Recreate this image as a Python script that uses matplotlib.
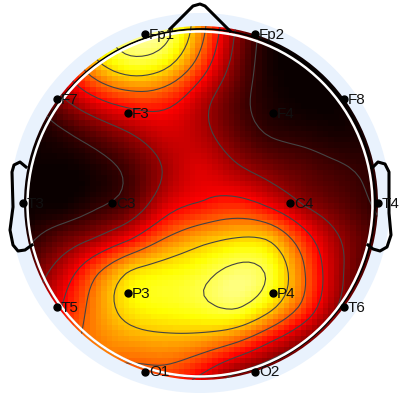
# EEG topomap, 16 channels, drawn in picture pixel units
import numpy as np
import matplotlib
matplotlib.use('Agg')
import matplotlib.pyplot as plt
from matplotlib.patches import Circle

channels = ['Fp1', 'Fp2', 'F7', 'F3', 'F4', 'F8', 'T3', 'C3', 'C4', 'T4', 'T5', 'P3', 'P4', 'T6', 'O1', 'O2']
chan_x = [145, 255, 57, 128, 273, 344, 23, 112, 290, 378, 57, 128, 273, 344, 145, 255]
chan_y = [34, 34, 99, 113, 113, 99, 203, 203, 203, 203, 307, 293, 293, 307, 372, 372]

grid_x = [25, 60, 95, 130, 165, 200, 235, 270, 305, 340, 375]
grid_y = [28, 63, 98, 133, 168, 203, 238, 273, 308, 343, 378]
field = [
    [.10, .42, .76, .88, .87, .58, .22, .03, .00, .00, .00],
    [.10, .36, .64, .78, .72, .47, .18, .02, .00, .00, .00],
    [.00, .20, .36, .45, .43, .28, .12, .03, .00, .00, .02],
    [.00, .05, .13, .22, .30, .26, .14, .06, .04, .02, .02],
    [.00, .00, .03, .10, .23, .32, .24, .17, .12, .08, .05],
    [.00, .00, .05, .12, .30, .37, .41, .33, .20, .13, .06],
    [.04, .13, .22, .35, .52, .62, .67, .65, .42, .22, .10],
    [.12, .28, .50, .69, .74, .78, .85, .80, .52, .24, .08],
    [.18, .36, .57, .72, .76, .79, .83, .70, .47, .20, .05],
    [.20, .45, .55, .60, .62, .60, .52, .36, .20, .08, .00],
    [.20, .40, .50, .45, .46, .35, .18, .10, .03, .00, .00],
]
levels = [.07, .22, .37, .52, .67, .82]

nose_x = [170, 193, 200, 205, 230]
nose_y = [29, 6, 4, 6, 31]
ear_l_x = [26, 20, 14, 12, 13, 10, 13, 18, 25, 32]
ear_l_y = [167, 162, 165, 172, 207, 230, 245, 251, 250, 245]
ear_r_x = [372, 378, 385, 389, 389, 391, 387, 380, 373, 368]
ear_r_y = [168, 162, 164, 172, 213, 235, 247, 251, 249, 245]


def smooth_field(xs, ys, vals, qx, qy):
    # thin plate surface through the read values, evaluated on the pixel blocks
    px, py = np.meshgrid(xs, ys)
    px, py, v = px.ravel() / 100.0, py.ravel() / 100.0, np.array(vals).ravel()

    def kernel(r):
        return r ** 2 * np.log(r + 1e-9)

    a = kernel(np.hypot(px[:, None] - px[None], py[:, None] - py[None]))
    w = np.linalg.solve(a + np.eye(len(v)) * 0.01, v)
    gx, gy = np.meshgrid(qx / 100.0, qy / 100.0)
    out = kernel(np.hypot(gx[..., None] - px, gy[..., None] - py)) @ w
    return out


cx, cy = 201, 203
qx = np.linspace(cx - 177, cx + 177, 64)
qy = np.linspace(cy - 177, cy + 177, 64)
z = smooth_field(grid_x, grid_y, field, qx, qy)

fig = plt.figure(figsize=(4, 4), dpi=100)
ax = fig.add_axes([0, 0, 1, 1])
ax.set_xlim(0, 400)
ax.set_ylim(400, 0)
ax.axis('off')

ax.add_patch(Circle((200, 203), 190, fc='#e9f2fd', ec='none', zorder=0))

clip = Circle((cx, cy), 177, transform=ax.transData)
im = ax.imshow(z, cmap='hot', vmin=0, vmax=1, interpolation='nearest', aspect='auto',
               extent=[qx[0], qx[-1], qy[-1], qy[0]], zorder=1)
im.set_clip_path(clip)
cs = ax.contour(qx, qy, z, levels=levels, colors='#444444', linewidths=0.8, zorder=2)
cs.set_clip_path(clip)

ax.set_xlim(0, 400)
ax.set_ylim(400, 0)

ax.add_patch(Circle((201, 203), 174, fc='none', ec='black', lw=1.3, zorder=3))
ax.add_patch(Circle((200, 204), 172.5, fc='none', ec='white', lw=1.8, zorder=4))
ax.plot(nose_x, nose_y, color='black', lw=2.2, zorder=5)
ax.plot(ear_l_x, ear_l_y, color='black', lw=2.2, zorder=5)
ax.plot(ear_r_x, ear_r_y, color='black', lw=2.2, zorder=5)

ax.plot(chan_x, chan_y, 'o', color='black', ms=5, zorder=6)
for name, x, y in zip(channels, chan_x, chan_y):
    ax.text(x + 4, y + 0.5, name, fontsize=11, family='Liberation Sans', color='#111111',
            ha='left', va='center', zorder=7)

fig.savefig('out.png', dpi=100)
